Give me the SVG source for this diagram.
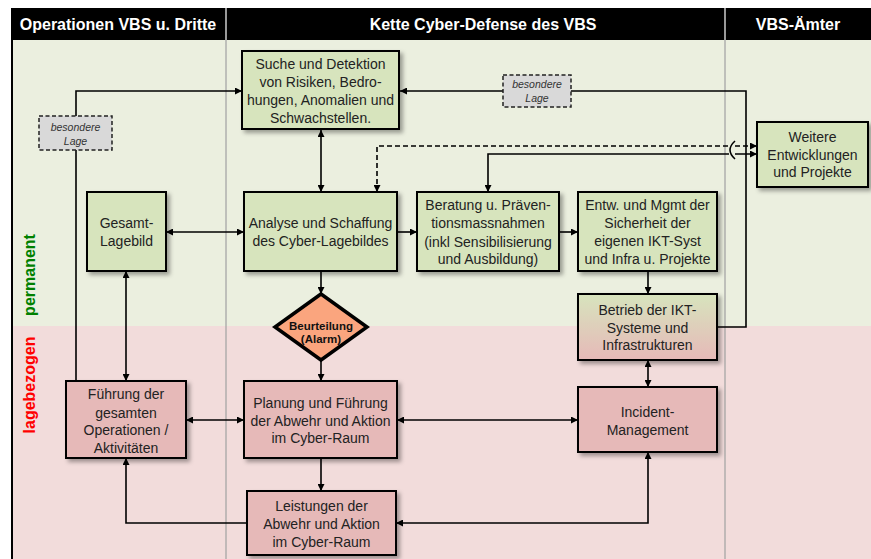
<svg xmlns="http://www.w3.org/2000/svg" width="871" height="559" viewBox="0 0 871 559">
<defs>
<style>
.hd{font-family:"Liberation Sans",Arial,sans-serif;font-weight:bold;font-size:16px;fill:#fff;text-anchor:middle}
.t{font-family:"Liberation Sans",Arial,sans-serif;font-size:14px;fill:#222;text-anchor:middle}
.it{font-family:"Liberation Sans",Arial,sans-serif;font-style:italic;font-size:10.5px;fill:#333;text-anchor:middle}
.bd{font-family:"Liberation Sans",Arial,sans-serif;font-weight:bold;font-size:11.5px;fill:#111;text-anchor:middle}
.side{font-family:"Liberation Sans",Arial,sans-serif;font-weight:bold;font-size:16px;text-anchor:middle}
.g{fill:#D7E4BD;stroke:#000;stroke-width:2;filter:url(#sh)}
.p{fill:#E6B9B8;stroke:#000;stroke-width:2;filter:url(#sh)}
.gp{fill:url(#gr);stroke:#000;stroke-width:2;filter:url(#sh)}
.bl{fill:#D9D9D9;stroke:#222;stroke-width:1.5;stroke-dasharray:4 2.5}
.c{fill:none;stroke:#000;stroke-width:1.6}
.a{marker-end:url(#ah)}
.aa{marker-start:url(#ah);marker-end:url(#ah)}
.div{stroke:#A6A6A6;stroke-width:1.3}
</style>
<marker id="ah" viewBox="0 0 10 10" refX="10" refY="5" markerWidth="9" markerHeight="7" markerUnits="userSpaceOnUse" orient="auto-start-reverse">
<path d="M0,0 L10,5 L0,10 z" fill="#000"/>
</marker>
<linearGradient id="gr" x1="0" y1="0" x2="0" y2="1">
<stop offset="0" stop-color="#D7E4BD"/>
<stop offset="1" stop-color="#E6B9B8"/>
</linearGradient>
<filter id="sh" x="-10%" y="-10%" width="130%" height="140%">
<feDropShadow dx="3" dy="3" stdDeviation="2" flood-color="#000" flood-opacity="0.35"/>
</filter>
</defs>
<rect x="0" y="0" width="871" height="559" fill="#fff"/>
<g id="background">
<rect x="12" y="40" width="859" height="286" fill="#EBEFDF"/>
<rect x="12" y="326" width="859" height="233" fill="#F2DCDB"/>
<line class="div" x1="226" y1="40" x2="226" y2="559"/>
<line class="div" x1="725" y1="40" x2="725" y2="559"/>
<rect x="11" y="8" width="860" height="32" fill="#000"/>
<line x1="226" y1="8" x2="226" y2="40" stroke="#fff" stroke-width="1.2"/>
<line x1="725" y1="8" x2="725" y2="40" stroke="#fff" stroke-width="1.2"/>
<line x1="12" y1="8" x2="12" y2="559" stroke="#000" stroke-width="2"/>
<text class="hd" x="118" y="30">Operationen VBS  u. Dritte</text>
<text class="hd" x="483" y="30">Kette Cyber-Defense des VBS</text>
<text class="hd" x="798" y="30">VBS-Ämter</text>
<text class="side" fill="#008000" transform="translate(35,275) rotate(-90)">permanent</text>
<text class="side" fill="#FF0000" transform="translate(35,385) rotate(-90)">lagebezogen</text>
</g>
<g id="connectors">
<path class="c a" d="M76,381 V91 H242"/>
<path class="c a" d="M717,327 H746 V91 H400"/>
<path class="c aa" d="M321,130 V192"/>
<path class="c aa" d="M377,192 V146 H729 M735,146 H757" stroke-dasharray="5 3"/>
<path class="c aa" d="M488,192 V154 H729 M735,154 H757"/>
<path class="c" d="M735,141 Q725,150 735,159"/>
<path class="c aa" d="M166,232 H244"/>
<path class="c a" d="M397,232 H417"/>
<path class="c a" d="M559,232 H578"/>
<path class="c a" d="M648,271 V294"/>
<path class="c a" d="M321,271 V294"/>
<path class="c a" d="M321,360 V381"/>
<path class="c aa" d="M126,271 V381"/>
<path class="c aa" d="M186,420 H244"/>
<path class="c aa" d="M397,420 H578"/>
<path class="c aa" d="M648,360 V387"/>
<path class="c a" d="M321,458 V491"/>
<path class="c a" d="M247,523 H126 V458"/>
<path class="c aa" d="M648,452 V523 H396"/>
</g>
<g id="n-suche">
<rect class="g" x="242" y="51" width="157" height="78"/>
<text class="t" x="320.5" y="69">Suche und Detektion</text>
<text class="t" x="320.5" y="87">von Risiken, Bedro-</text>
<text class="t" x="320.5" y="105">hungen, Anomalien und</text>
<text class="t" x="320.5" y="123">Schwachstellen.</text>
</g>
<g id="n-lage1">
<rect class="bl" x="39" y="116" width="73" height="34"/>
<text class="it" x="75.5" y="131">besondere</text>
<text class="it" x="75.5" y="145">Lage</text>
</g>
<g id="n-lage2">
<rect class="bl" x="503" y="75" width="68" height="32"/>
<text class="it" x="537" y="88">besondere</text>
<text class="it" x="537" y="102">Lage</text>
</g>
<g id="n-weitere">
<rect class="g" x="757" y="122" width="111" height="65"/>
<text class="t" x="812.5" y="142">Weitere</text>
<text class="t" x="812.5" y="160">Entwicklungen</text>
<text class="t" x="812.5" y="177">und Projekte</text>
</g>
<g id="n-gesamt">
<rect class="g" x="87" y="192" width="79" height="79"/>
<text class="t" x="126.5" y="228">Gesamt-</text>
<text class="t" x="126.5" y="246">Lagebild</text>
</g>
<g id="n-analyse">
<rect class="g" x="244" y="192" width="153" height="79"/>
<text class="t" x="320.5" y="228">Analyse und Schaffung</text>
<text class="t" x="320.5" y="246">des Cyber-Lagebildes</text>
</g>
<g id="n-beratung">
<rect class="g" x="417" y="192" width="142" height="79"/>
<text class="t" x="488" y="210">Beratung u. Präven-</text>
<text class="t" x="488" y="228">tionsmassnahmen</text>
<text class="t" x="488" y="247">(inkl Sensibilisierung</text>
<text class="t" x="488" y="264">und Ausbildung)</text>
</g>
<g id="n-entw">
<rect class="g" x="578" y="192" width="139" height="79"/>
<text class="t" x="647.5" y="210">Entw. und Mgmt der</text>
<text class="t" x="647.5" y="228">Sicherheit der</text>
<text class="t" x="647.5" y="246">eigenen IKT-Syst</text>
<text class="t" x="647.5" y="264">und Infra u. Projekte</text>
</g>
<g id="n-betrieb">
<rect class="gp" x="578" y="294" width="139" height="66"/>
<text class="t" x="647.5" y="315">Betrieb der IKT-</text>
<text class="t" x="647.5" y="333">Systeme und</text>
<text class="t" x="647.5" y="350">Infrastrukturen</text>
</g>
<g id="n-beurteilung">
<path d="M321,294 L367,327 L321,360 L275,327 Z" fill="#FAA57E" stroke="#000" stroke-width="3.5" stroke-linejoin="miter"/>
<text class="bd" x="321" y="330">Beurteilung</text>
<text class="bd" x="321" y="343">(Alarm)</text>
</g>
<g id="n-fuehrung">
<rect class="p" x="66" y="381" width="120" height="77"/>
<text class="t" x="126" y="399">Führung der</text>
<text class="t" x="126" y="418">gesamten</text>
<text class="t" x="126" y="435">Operationen /</text>
<text class="t" x="126" y="453">Aktivitäten</text>
</g>
<g id="n-planung">
<rect class="p" x="244" y="381" width="153" height="77"/>
<text class="t" x="320.5" y="408">Planung und Führung</text>
<text class="t" x="320.5" y="426">der Abwehr und Aktion</text>
<text class="t" x="320.5" y="443">im Cyber-Raum</text>
</g>
<g id="n-incident">
<rect class="p" x="578" y="387" width="139" height="65"/>
<text class="t" x="647.5" y="417">Incident-</text>
<text class="t" x="647.5" y="435">Management</text>
</g>
<g id="n-leistungen">
<rect class="p" x="247" y="491" width="149" height="64"/>
<text class="t" x="321.5" y="511">Leistungen der</text>
<text class="t" x="321.5" y="529">Abwehr und Aktion</text>
<text class="t" x="321.5" y="547">im Cyber-Raum</text>
</g>
</svg>
